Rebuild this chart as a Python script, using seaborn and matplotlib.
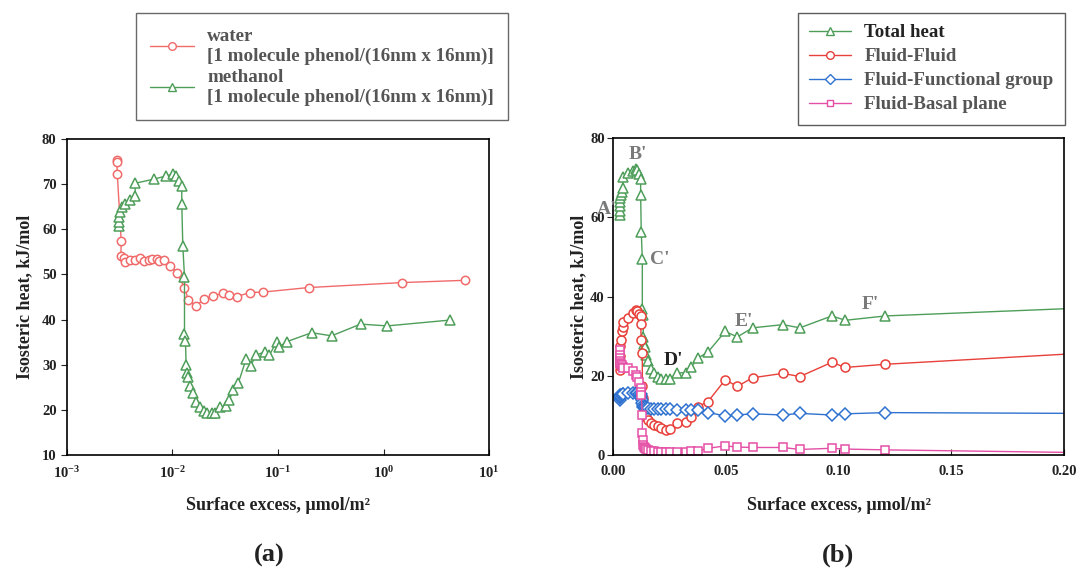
import numpy as np
import pandas as pd
import matplotlib
matplotlib.use("Agg")
import matplotlib.pyplot as plt
from matplotlib.lines import Line2D
from matplotlib.ticker import FixedLocator, NullLocator, FixedFormatter
import seaborn as sns

# ---------------- data ----------------
# water, 1 phenol molecule per 16nm x 16nm
water_x = [0.00297, 0.00297, 0.00300, 0.00327, 0.00324, 0.00344, 0.00356, 0.00397,
           0.00443, 0.00494, 0.00532, 0.00593, 0.00637, 0.00711, 0.00738, 0.00823,
           0.00951, 0.01099, 0.01300, 0.01417, 0.01663, 0.01995, 0.02445, 0.02994,
           0.03437, 0.04062, 0.05433, 0.07265, 0.195, 1.50, 5.93]
water_q = [75.3, 74.8, 72.2, 57.3, 54.1, 53.6, 52.8, 53.2,
           53.3, 53.6, 53.0, 53.3, 53.5, 53.5, 53.0, 53.3,
           51.9, 50.4, 47.1, 44.3, 43.1, 44.5, 45.3, 45.8,
           45.5, 45.1, 46.0, 46.1, 47.1, 48.2, 48.7]

# methanol, 1 phenol molecule per 16nm x 16nm (also the total heat in panel b)
methanol_x = [0.00308, 0.00308, 0.00313, 0.00320, 0.00332, 0.00356, 0.00397, 0.00443,
              0.00443, 0.00661, 0.00865, 0.01007, 0.01084, 0.01165, 0.01225, 0.01225,
              0.01253, 0.01300, 0.01300, 0.01328, 0.01347, 0.01367, 0.01417, 0.01469,
              0.01556, 0.01674, 0.01827, 0.01995, 0.02114, 0.02357, 0.02535, 0.02826,
              0.03221, 0.03462, 0.03775, 0.04214, 0.04978, 0.05510, 0.06188, 0.07534,
              0.08286, 0.09705, 0.1030, 0.1208, 0.2084, 0.3223, 0.6058, 1.084, 4.305]
methanol_q = [60.7, 61.7, 62.8, 63.9, 64.9, 65.5, 66.5, 67.4,
              70.2, 71.1, 71.8, 72.2, 71.9, 70.8, 69.6, 65.7,
              56.3, 49.5, 36.8, 35.3, 29.9, 28.1, 27.3, 25.3,
              23.8, 21.8, 20.7, 19.8, 19.2, 19.2, 19.2, 20.7,
              20.8, 22.2, 24.5, 26.0, 31.2, 29.8, 32.1, 32.9,
              32.1, 35.1, 34.0, 35.1, 37.1, 36.4, 39.0, 38.6, 39.9]

# heat contributions for methanol, at the first 45 loadings above
fluid_fluid = [21.5, 22.5, 23.3, 25.0, 27.4, 29.0, 31.2, 32.4,
               33.5, 34.5, 35.8, 36.6, 36.4, 35.6, 35.0, 33.0,
               29.1, 25.7, 17.3, 14.5, 12.2, 11.0, 10.5, 9.6,
               8.8, 8.0, 7.5, 7.2, 6.8, 6.3, 6.5, 8.0,
               8.4, 9.7, 12.2, 13.5, 19.0, 17.3, 19.5, 20.6,
               19.8, 23.4, 22.1, 22.9, 25.7]
fluid_functional = [13.9, 14.5, 15.2, 14.7, 15.0, 15.2, 15.2, 15.3,
                    15.4, 15.6, 15.6, 15.6, 15.6, 15.5, 15.3, 14.9,
                    14.3, 13.8, 13.1, 12.6, 12.2, 12.0, 12.0, 11.9,
                    11.8, 11.7, 11.6, 11.5, 11.5, 11.5, 11.5, 11.4,
                    11.4, 11.4, 11.4, 10.7, 9.9, 10.1, 10.4, 10.1,
                    10.5, 10.1, 10.4, 10.7, 10.5]
fluid_basal = [26.5, 25.3, 24.5, 23.8, 23.2, 22.9, 22.7, 22.3,
               22.0, 21.9, 21.1, 20.3, 19.8, 18.5, 17.0, 16.0,
               15.2, 10.1, 5.5, 3.8, 2.5, 2.0, 1.7, 1.4,
               1.2, 1.0, 0.9, 0.8, 0.8, 0.7, 0.7, 0.8,
               0.8, 0.9, 1.0, 1.7, 2.3, 2.0, 1.9, 1.9,
               1.4, 1.7, 1.5, 1.3, 0.6]

left_yticks = [10, 20, 30, 40, 50, 60, 70, 80]
left_xticks = [1e-3, 1e-2, 1e-1, 1e0, 1e1]
left_xticklabels = [r"$\mathbf{10^{-3}}$", r"$\mathbf{10^{-2}}$", r"$\mathbf{10^{-1}}$",
                    r"$\mathbf{10^{0}}$", r"$\mathbf{10^{1}}$"]
right_xticks = [0.00, 0.05, 0.10, 0.15, 0.20]
right_xticklabels = ["0.00", "0.05", "0.10", "0.15", "0.20"]
right_yticks = [0, 20, 40, 60, 80]

point_labels = ["A'", "B'", "C'", "D'", "E'", "F'"]
point_label_x = [-0.0028, 0.0111, 0.0207, 0.0267, 0.0578, 0.114]
point_label_y = [61.9, 75.8, 49.3, 23.8, 33.7, 37.9]

# ---------------- style ----------------
sns.set_style("ticks")
plt.rcParams["font.family"] = ["Liberation Serif", "DejaVu Serif"]
plt.rcParams["font.weight"] = "bold"
plt.rcParams["mathtext.fontset"] = "custom"
plt.rcParams["mathtext.rm"] = "Liberation Serif:bold"
plt.rcParams["mathtext.bf"] = "Liberation Serif:bold"
plt.rcParams["mathtext.it"] = "Liberation Serif:bold"

C_WATER = "#f06a6a"
C_METH = "#4e9e5a"
C_FF = "#e8403a"
C_FFG = "#2f72d0"
C_FBP = "#e44fa6"
TXT = "#222222"

fig = plt.figure(figsize=(10.8, 5.8), dpi=100)
ax1 = fig.add_axes([0.062, 0.2155, 0.3908, 0.5448])
ax2 = fig.add_axes([0.5676, 0.2155, 0.4176, 0.5465])


def draw(ax, x, y, color, marker, ms, lw=1.0):
    df = pd.DataFrame({"x": x, "y": y})
    sns.lineplot(data=df, x="x", y="y", ax=ax, estimator=None, sort=False,
                 color=color, lw=lw, marker=marker, markersize=ms,
                 markerfacecolor="white", markeredgecolor=color,
                 markeredgewidth=1.1, legend=False)


# ---------------- panel (a) ----------------
draw(ax1, water_x, water_q, C_WATER, "o", 6)
draw(ax1, methanol_x, methanol_q, C_METH, "^", 6.5)
ax1.set_xscale("log")
ax1.set_xlim(1e-3, 1e1)
ax1.set_ylim(10, 80)
ax1.xaxis.set_major_locator(FixedLocator(left_xticks))
ax1.xaxis.set_major_formatter(FixedFormatter(left_xticklabels))
ax1.xaxis.set_minor_locator(NullLocator())
ax1.set_yticks(left_yticks)
ax1.set_xlabel("Surface excess, µmol/m²", fontsize=13, fontweight="bold", labelpad=12)
ax1.set_ylabel("Isosteric heat, kJ/mol", fontsize=13, fontweight="bold", labelpad=6)

# ---------------- panel (b) ----------------
n = len(fluid_fluid)
draw(ax2, methanol_x[:n], methanol_q[:n], C_METH, "^", 6.5)
draw(ax2, methanol_x[:n], fluid_fluid, C_FF, "o", 6.5)
draw(ax2, methanol_x[:n], fluid_functional, C_FFG, "D", 6)
draw(ax2, methanol_x[:n], fluid_basal, C_FBP, "s", 5.5)
ax2.set_xlim(0, 0.20)
ax2.set_ylim(0, 80)
ax2.set_xticks(right_xticks)
ax2.set_xticklabels(right_xticklabels)
ax2.set_yticks(right_yticks)
ax2.set_xlabel("Surface excess, µmol/m²", fontsize=13, fontweight="bold", labelpad=14)
ax2.set_ylabel("Isosteric heat, kJ/mol", fontsize=13, fontweight="bold", labelpad=2)

for lab, lx, ly in zip(point_labels, point_label_x, point_label_y):
    col = TXT if lab == "D'" else "#7a7a7a"
    ax2.text(lx, ly, lab, fontsize=14, fontweight="bold", color=col,
             ha="center", va="center", clip_on=False)

for ax in (ax1, ax2):
    for sp in ax.spines.values():
        sp.set_visible(True)
        sp.set_linewidth(1.2)
        sp.set_color("black")
    ax.tick_params(axis="x", direction="in", length=4, labelsize=10.5, pad=7,
                   colors=TXT)
    ax.tick_params(axis="y", direction="out", length=4, labelsize=10.5, colors=TXT)
    for t in ax.get_xticklabels() + ax.get_yticklabels():
        t.set_fontweight("bold")
    ax.xaxis.label.set_color(TXT)
    ax.yaxis.label.set_color(TXT)
ax2.tick_params(axis="y", pad=2)

# ---------------- legends ----------------
h_water = Line2D([], [], color=C_WATER, marker="o", ms=5.5, mfc="white", mec=C_WATER, lw=1)
h_meth = Line2D([], [], color=C_METH, marker="^", ms=6, mfc="white", mec=C_METH, lw=1)
leg1 = fig.legend([h_water, h_meth],
                  ["water\n[1 molecule phenol/(16nm x 16nm)]",
                   "methanol\n[1 molecule phenol/(16nm x 16nm)]"],
                  loc="upper left", bbox_to_anchor=(0.126, 0.977),
                  frameon=True, fancybox=False, edgecolor="#444444",
                  prop={"size": 13.7, "weight": "bold"}, labelspacing=0.22,
                  handlelength=2.3, handletextpad=0.7, borderpad=0.75,
                  borderaxespad=0)
for t in leg1.get_texts():
    t.set_color("#555555")
    t.set_linespacing(1.2)

h_tot = Line2D([], [], color=C_METH, marker="^", ms=6, mfc="white", mec=C_METH, lw=1)
h_ff = Line2D([], [], color=C_FF, marker="o", ms=5.5, mfc="white", mec=C_FF, lw=1)
h_ffg = Line2D([], [], color=C_FFG, marker="D", ms=5, mfc="white", mec=C_FFG, lw=1)
h_fbp = Line2D([], [], color=C_FBP, marker="s", ms=5, mfc="white", mec=C_FBP, lw=1)
leg2 = fig.legend([h_tot, h_ff, h_ffg, h_fbp],
                  ["Total heat", "Fluid-Fluid", "Fluid-Functional group", "Fluid-Basal plane"],
                  loc="upper left", bbox_to_anchor=(0.739, 0.978),
                  frameon=True, fancybox=False, edgecolor="#333333",
                  prop={"size": 13.6, "weight": "bold"}, labelspacing=0.36,
                  handlelength=2.2, handletextpad=0.7, borderpad=0.6,
                  borderaxespad=0)
for i, t in enumerate(leg2.get_texts()):
    t.set_color(TXT if i == 0 else "#555555")

# ---------------- panel captions ----------------
fig.text(0.249, 0.043, "(a)", fontsize=19, fontweight="bold", ha="center", va="center", color=TXT)
fig.text(0.776, 0.043, "(b)", fontsize=19, fontweight="bold", ha="center", va="center", color=TXT)

fig.savefig("out.png", dpi=100)
